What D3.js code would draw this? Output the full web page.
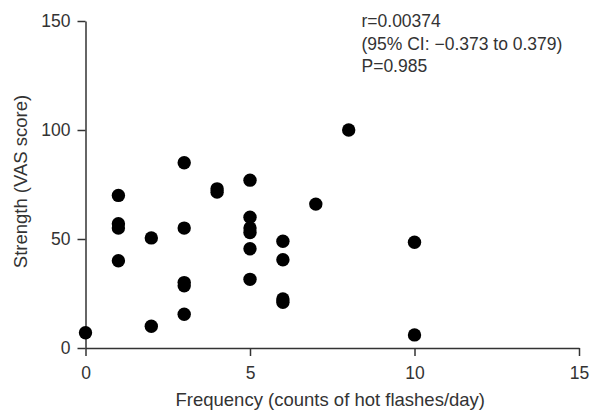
<!DOCTYPE html>
<html>
<head>
<meta charset="utf-8">
<script src="https://cdn.jsdelivr.net/npm/d3@7"></script>
<style>
  body { margin: 0; background: #fff; }
  text { font-family: "Liberation Sans", Arial, sans-serif; }
</style>
</head>
<body>
<svg id="chart" width="592" height="410"></svg>
<script>
// hot flash frequency (x) vs strength (y)
var freq = [0, 1, 1, 1, 1, 2, 2, 3, 3, 3, 3, 3, 4, 4, 5, 5, 5, 5, 5, 5, 6, 6, 6, 6, 7, 8, 10, 10];
var strength = [7, 70, 57, 55, 40, 50.5, 10, 85, 55, 30, 28.5, 15.5, 73, 71.5, 77, 60, 55, 53, 45.5, 31.5, 49, 40.5, 22.5, 21, 66, 100, 48.5, 6];
var xTicks = [0, 5, 10, 15];
var yTicks = [0, 50, 100, 150];
var statLines = ["r=0.00374", "(95% CI: \u22120.373 to 0.379)", "P=0.985"];

var svg = d3.select("#chart"),
    margin = { top: 21, right: 13, bottom: 62, left: 85.5 },
    width = 592 - margin.left - margin.right,
    height = 410 - margin.top - margin.bottom;

var g = svg.append("g").attr("transform", "translate(" + margin.left + "," + margin.top + ")");

var xScale = d3.scaleLinear().domain([0, 15]).range([0, width]),
    yScale = d3.scaleLinear().domain([0, 150]).range([height, 0]);

var axisColor = "#333";

// x axis
var xAxis = g.append("g")
    .attr("transform", "translate(0," + height + ")")
    .call(d3.axisBottom(xScale).tickValues(xTicks).tickSize(8).tickSizeOuter(0).tickPadding(11));

// y axis
var yAxis = g.append("g")
    .call(d3.axisLeft(yScale).tickValues(yTicks).tickSize(8).tickSizeOuter(0).tickPadding(7));

[xAxis, yAxis].forEach(function(a) {
    a.select(".domain").attr("stroke", axisColor).attr("stroke-width", 1.5);
    a.selectAll(".tick line").attr("stroke", axisColor).attr("stroke-width", 1.5);
    a.selectAll(".tick text")
        .attr("fill", axisColor)
        .style("font", "17.5px 'Liberation Sans', Arial, sans-serif");
});

// axis titles
g.append("text")
    .attr("x", xScale(7.5) - 2)
    .attr("y", height + 58)
    .attr("text-anchor", "middle")
    .attr("fill", axisColor)
    .style("font-size", "18.5px")
    .text("Frequency (counts of hot flashes/day)");

g.append("text")
    .attr("transform", "rotate(-90)")
    .attr("x", -yScale(75) + 3)
    .attr("y", -59)
    .attr("text-anchor", "middle")
    .attr("fill", axisColor)
    .style("font-size", "18.5px")
    .text("Strength (VAS score)");

// points
var pts = freq.map(function(f, i) { return { x: f, y: strength[i] }; });
g.selectAll("circle.dot")
    .data(pts)
    .enter().append("circle")
    .attr("class", "dot")
    .attr("cx", function(d) { return xScale(d.x); })
    .attr("cy", function(d) { return yScale(d.y); })
    .attr("r", 6.7)
    .attr("fill", "#000");

// correlation annotation
g.selectAll("text.stat")
    .data(statLines)
    .enter().append("text")
    .attr("class", "stat")
    .attr("x", 361.5 - margin.left)
    .attr("y", function(d, i) { return 6 + i * 22.5; })
    .attr("fill", axisColor)
    .style("font-size", "17.5px")
    .text(function(d) { return d; });
</script>
</body>
</html>
